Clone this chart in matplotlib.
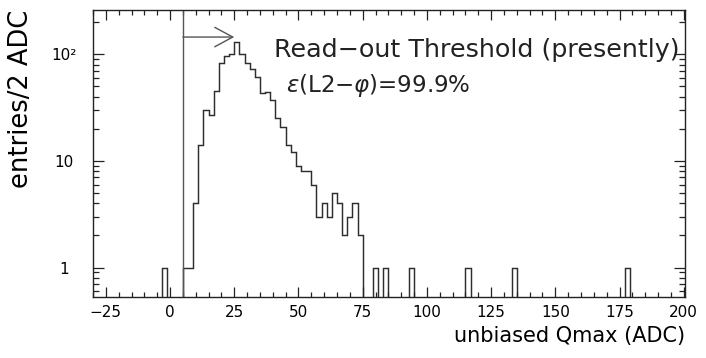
import numpy as np
import matplotlib
matplotlib.use("Agg")
import matplotlib.pyplot as plt
from matplotlib.ticker import FixedLocator, FixedFormatter, LogLocator, NullFormatter, MultipleLocator

# ---- data: 2 ADC bins, left edge -> entries ----
bin_lo = [-3, 5, 7, 9, 11, 13, 15, 17, 19, 21, 23, 25, 27, 29, 31, 33, 35, 37, 39,
          41, 43, 45, 47, 49, 51, 53, 55, 57, 59, 61, 63, 65, 67, 69, 71, 73,
          79, 83, 93, 115, 133, 177]
entries = [1, 1, 1, 4, 14, 30, 27, 45, 82, 96, 101, 131, 101, 82, 72, 61, 43, 44, 37,
           25, 21, 14, 12, 9, 8, 8, 6, 3, 4, 3, 5, 4, 2, 3, 4, 2,
           1, 1, 1, 1, 1, 1]
bin_width = 2
threshold = 5
arrow_end = 25
arrow_y = 145

x_ticks = [-25, 0, 25, 50, 75, 100, 125, 150, 175, 200]
y_ticks = [1, 10, 100]
y_labels = ["1", "10", "10²"]

# build full histogram on a regular grid of edges
edges = np.arange(-31, 203, bin_width)
counts = np.zeros(len(edges) - 1)
for lo, n in zip(bin_lo, entries):
    counts[np.searchsorted(edges, lo)] = n
draw_counts = np.where(counts > 0, counts, 1e-3)  # empty bins fall below the frame

plt.rcParams["font.family"] = "DejaVu Sans"

fig = plt.figure(figsize=(7.06, 3.58), dpi=100)
ax = fig.add_axes([93 / 706, 61 / 358, 592 / 706, 287 / 358])

ax.stairs(draw_counts, edges, baseline=None, color="#2e2e2e", linewidth=1.05)
ax.axvline(threshold, color="#555555", linewidth=1.0)
ax.annotate("", xy=(arrow_end, arrow_y), xytext=(threshold, arrow_y),
            arrowprops=dict(arrowstyle="->,head_length=1.3,head_width=0.7",
                            mutation_scale=10, color="#555555", linewidth=1.0,
                            shrinkA=0, shrinkB=0))

ax.text(40.5, 94, "Read\u2212out Threshold (presently)", fontsize=18.3, va="baseline",
        color="#222222")
ax.text(45.2, 44, r"$\varepsilon$(L2$-\varphi$)=99.9%", fontsize=16.5, va="baseline",
        color="#222222")

ax.set_yscale("log")
ax.set_xlim(-30, 200.5)
ax.set_ylim(0.53, 260)

ax.xaxis.set_major_locator(FixedLocator(x_ticks))
ax.xaxis.set_minor_locator(MultipleLocator(5))
ax.yaxis.set_major_locator(FixedLocator(y_ticks))
ax.yaxis.set_major_formatter(FixedFormatter(y_labels))
ax.yaxis.set_minor_locator(LogLocator(base=10, subs=np.arange(2, 10)))
ax.yaxis.set_minor_formatter(NullFormatter())

ax.tick_params(axis="both", which="both", direction="in", top=True, right=True,
               color="#222222", width=0.9)
ax.tick_params(axis="x", which="major", length=7.2, pad=6, labelsize=11)
ax.tick_params(axis="x", which="minor", length=3.6)
ax.tick_params(axis="y", which="major", length=7.8, pad=21, labelsize=11)
ax.tick_params(axis="y", which="minor", length=4.3)
for lab in ax.get_yticklabels():
    lab.set_horizontalalignment("center")

for sp in ax.spines.values():
    sp.set_color("#222222")
    sp.set_linewidth(1.0)

ax.set_xlabel("unbiased Qmax (ADC)", fontsize=15, loc="right", labelpad=4)
ax.set_ylabel("entries/2 ADC", fontsize=18.5, loc="top", labelpad=12)

fig.savefig("out.png", dpi=100)
